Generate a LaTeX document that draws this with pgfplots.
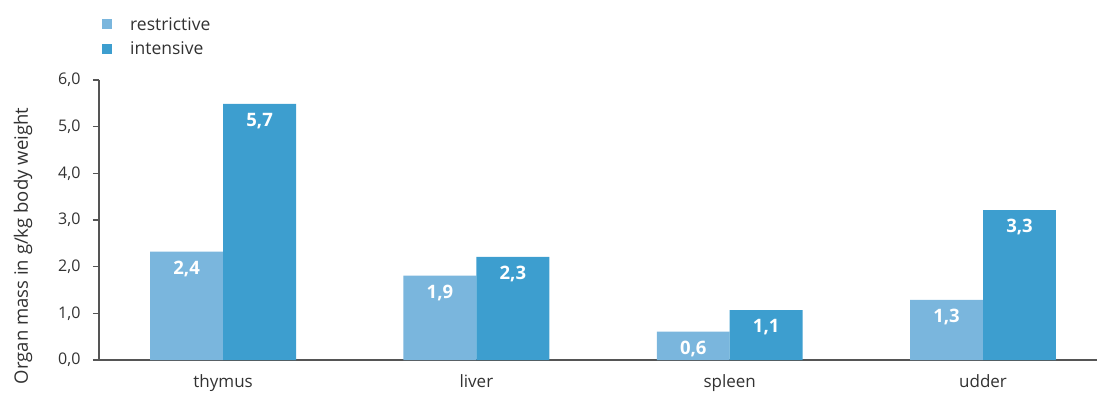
\documentclass[border=0pt]{standalone}
\usepackage{pgfplots}
\pgfplotsset{compat=1.18}
\usepackage{pgfplotstable}
\usepackage{fontspec}
\setmainfont{Open Sans}
\definecolor{restr}{RGB}{122,182,221}
\definecolor{inten}{RGB}{61,158,207}
\definecolor{axisgray}{RGB}{85,85,85}
\definecolor{txtgray}{RGB}{50,50,50}
\pgfplotstableread{
x y lab
0 2.32 2,4
1 1.81 1,9
2 0.61 0,6
3 1.29 1,3
}\restr
\pgfplotstableread{
x y lab
0 5.49 5,7
1 2.21 2,3
2 1.07 1,1
3 3.21 3,3
}\inten
\begin{document}
\begin{tikzpicture}
\begin{axis}[
  scale only axis, width=998pt, height=280pt,
  xmin=-0.49, xmax=3.45, ymin=0, ymax=6,
  axis x line=bottom, axis y line=left,
  axis line style={-, axisgray, line width=2pt},
  xtick={0,1,2,3}, xticklabels={thymus,liver,spleen,udder},
  x tick style={draw=none},
  ytick={0,1,2,3,4,5,6},
  y tick style={axisgray, line width=1.5pt},
  tick align=outside, major tick length=6pt,
  yticklabel style={xshift=-9pt, /pgf/number format/.cd, fixed, fixed zerofill, precision=1, use comma, assume math mode=true},
  xticklabel style={yshift=-5pt, font=\fontsize{17}{19}\selectfont},
  ticklabel style={font=\fontsize{16}{18}\selectfont, text=txtgray},
  ylabel={Organ mass in g/kg body weight},
  every axis y label/.style={at={(rel axis cs:0,0.5)}, xshift=-76pt, yshift=-26pt, rotate=90, anchor=center, font=\fontsize{18.5}{20}\selectfont, text=txtgray},
  ybar, bar width=0.288,
  point meta=explicit symbolic,
  nodes near coords,
  every node near coord/.append style={anchor=north, yshift=-9pt, inner sep=0pt, text=white, font=\bfseries\fontsize{18.5}{20}\selectfont},
  legend style={at={(rel axis cs:0.003,1.232)}, anchor=north west, draw=none, fill=none, inner sep=0pt, row sep=6pt, font=\fontsize{17.5}{19}\selectfont, text=txtgray, cells={anchor=west}},
  legend image code/.code={\fill[#1] (0pt,-5pt) rectangle (10pt,5pt); \path[draw=none, fill=none] (0pt,-5pt) rectangle (26pt,5pt);},
  clip=false,
]
\addplot[fill=restr, draw=none, bar shift=-0.144] table[x=x, y=y, meta=lab] {\restr};
\addplot[fill=inten, draw=none, bar shift=0.144] table[x=x, y=y, meta=lab] {\inten};
\legend{restrictive, intensive}
\path (rel axis cs:0,0) ++(-99pt,-34pt) coordinate (bl);
\path (rel axis cs:0,0) ++(1000pt,360pt) coordinate (tr);
\end{axis}
\useasboundingbox (bl) rectangle (tr);
\end{tikzpicture}
\end{document}
